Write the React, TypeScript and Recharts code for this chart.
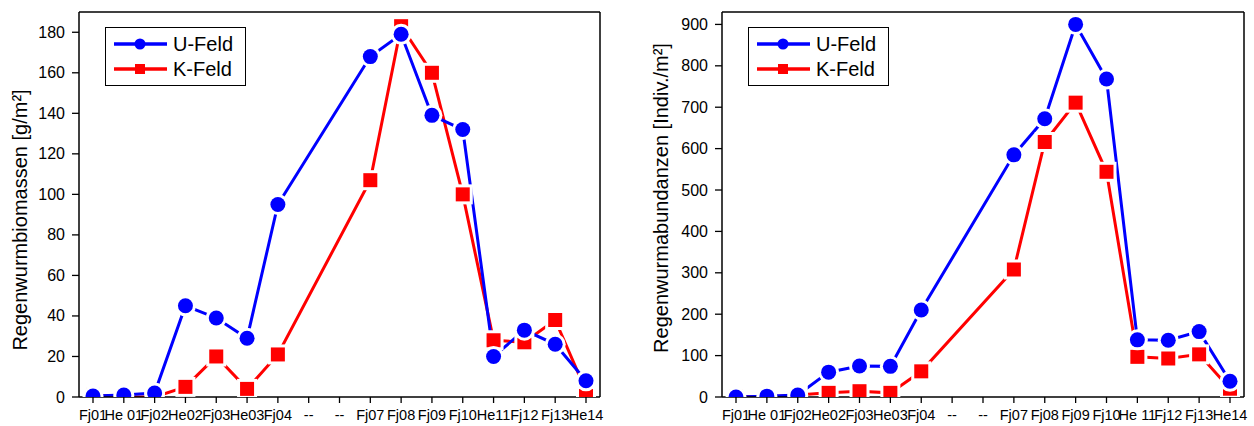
import React from "react";
import { LineChart, Line, XAxis, YAxis, Legend } from "recharts";

const labelsBio = ["Fj01", "He 01", "Fj02", "He02", "Fj03", "He03", "Fj04", "--", "--", "Fj07", "Fj08", "Fj09", "Fj10", "He11", "Fj12", "Fj13", "He14"];
const labelsAbu = ["Fj01", "He 01", "Fj02", "He02", "Fj03", "He03", "Fj04", "--", "--", "Fj07", "Fj08", "Fj09", "Fj10", "He 11", "Fj12", "Fj13", "He14"];

const bioU = [0.5, 1, 2, 45, 39, 29, 95, null, null, 168, 179, 139, 132, 20, 33, 26, 8];
const bioK = [1, 0, 0, 5, 20, 4, 21, null, null, 107, 183, 160, 100, 28, 27, 38, 3];

const abuU = [0, 2, 5, 60, 75, 74, 210, null, null, 585, 672, 900, 768, 138, 137, 158, 38];
const abuK = [2, 0, 5, 10, 14, 10, 62, null, null, 308, 616, 711, 544, 97, 93, 103, 20];

const bioTicks = [0, 10, 20, 30, 40, 50, 60, 70, 80, 90, 100, 110, 120, 130, 140, 150, 160, 170, 180];
const abuTicks = [0, 50, 100, 150, 200, 250, 300, 350, 400, 450, 500, 550, 600, 650, 700, 750, 800, 850, 900];

const BLUE = "#0000ff";
const RED = "#ff0000";
const TICK_FONT = "'Liberation Sans Narrow', 'Arial Narrow', 'Liberation Sans', Arial, sans-serif";
const FONT = "'Liberation Sans', Arial, sans-serif";

const bioData = labelsBio.map((label, i) => ({ label, u: bioU[i], k: bioK[i] }));
const abuData = labelsAbu.map((label, i) => ({ label, u: abuU[i], k: abuK[i] }));

const yTick = (step: number) => (props: any) => {
  const { x, y, payload } = props;
  const major = payload.value % step === 0;
  const len = major ? 7 : 4;
  return (
    <g>
      <line x1={x - len} x2={x} y1={y} y2={y} stroke="#000" strokeWidth={1.3} />
      {major && (
        <text x={x - 14} y={y} textAnchor="end" dominantBaseline="central" fontFamily={TICK_FONT} fontSize={16} fill="#000">
          {payload.value}
        </text>
      )}
    </g>
  );
};

const circleDot = (color: string) => (p: any) => {
  if (p.cx == null || p.cy == null || p.value == null) return <g key={p.index} />;
  return (
    <g key={p.index}>
      <circle cx={p.cx} cy={p.cy} r={10.5} fill="#fff" />
      <circle cx={p.cx} cy={p.cy} r={7.5} fill={color} />
    </g>
  );
};

const squareDot = (color: string) => (p: any) => {
  if (p.cx == null || p.cy == null || p.value == null) return <g key={p.index} />;
  return (
    <g key={p.index}>
      <rect x={p.cx - 10} y={p.cy - 10} width={20} height={20} fill="#fff" />
      <rect x={p.cx - 7} y={p.cy - 7} width={14} height={14} fill={color} />
    </g>
  );
};

const legendBox = () => (
  <svg width={142} height={60} style={{ display: "block" }}>
    <rect x={0.5} y={0.5} width={140} height={58} fill="#fff" stroke="#000" strokeWidth={1} />
    <line x1={9} x2={62} y1={17} y2={17} stroke={BLUE} strokeWidth={3.5} />
    <circle cx={35} cy={17} r={5.5} fill={BLUE} />
    <text x={68} y={17} dominantBaseline="central" fontFamily={FONT} fontSize={20} fill="#000">U-Feld</text>
    <line x1={9} x2={62} y1={42} y2={42} stroke={RED} strokeWidth={3.5} />
    <rect x={30} y={37} width={10} height={10} fill={RED} />
    <text x={68} y={42} dominantBaseline="central" fontFamily={FONT} fontSize={20} fill="#000">K-Feld</text>
  </svg>
);

function Panel(props: {
  data: any[];
  width: number;
  yWidth: number;
  rightMargin: number;
  domain: [number, number];
  ticks: number[];
  step: number;
  title: string;
  titleX: number;
  titleY: number;
  legendLeft: number;
}) {
  const { data, width, yWidth, rightMargin, domain, ticks, step, title, titleX, titleY, legendLeft } = props;
  const pad = { left: 14, right: 14 };
  return (
    <LineChart width={width} height={426} data={data} margin={{ top: 12, right: rightMargin, bottom: 0, left: 0 }}>
      <XAxis
        dataKey="label"
        interval={0}
        height={29}
        padding={pad}
        tickSize={6}
        tickMargin={7}
        tick={{ fill: "#000", fontSize: 14.5, fontFamily: TICK_FONT }}
        stroke="#000"
        axisLine={{ stroke: "#000", strokeWidth: 1.5 }}
        tickLine={{ stroke: "#000", strokeWidth: 1.3 }}
      />
      <XAxis
        xAxisId="top"
        dataKey="label"
        orientation="top"
        mirror
        interval={0}
        padding={pad}
        tick={false}
        tickSize={4}
        axisLine={{ stroke: "#000", strokeWidth: 1.5 }}
        tickLine={{ stroke: "#000", strokeWidth: 1.3 }}
      />
      <YAxis
        domain={domain}
        ticks={ticks}
        width={yWidth}
        tickSize={0}
        tickMargin={0}
        tickLine={false}
        tick={yTick(step * 2)}
        axisLine={{ stroke: "#000", strokeWidth: 1.5 }}
        allowDataOverflow
        label={() => (
          <text
            x={titleX}
            y={titleY}
            transform={`rotate(-90 ${titleX} ${titleY})`}
            textAnchor="middle"
            dominantBaseline="central"
            fontFamily={FONT}
            fontSize={20}
            fill="#000"
          >
            {title}
          </text>
        )}
      />
      <YAxis
        yAxisId="right"
        orientation="right"
        mirror
        domain={domain}
        ticks={ticks}
        tick={false}
        tickSize={4}
        allowDataOverflow
        axisLine={{ stroke: "#000", strokeWidth: 1.5 }}
        tickLine={{ stroke: "#000", strokeWidth: 1.3 }}
      />
      <Legend
        layout="vertical"
        align="center"
        verticalAlign="middle"
        wrapperStyle={{ left: legendLeft, top: 27, width: 142, height: 60 }}
        content={legendBox}
      />
      <Line
        type="linear"
        dataKey="k"
        name="K-Feld"
        stroke={RED}
        strokeWidth={3}
        connectNulls
        dot={squareDot(RED)}
        activeDot={false}
        isAnimationActive={false}
      />
      <Line
        type="linear"
        dataKey="u"
        name="U-Feld"
        stroke={BLUE}
        strokeWidth={3}
        connectNulls
        dot={circleDot(BLUE)}
        activeDot={false}
        isAnimationActive={false}
      />
    </LineChart>
  );
}

export default function App() {
  return (
    <div style={{ position: "absolute", left: 0, top: 0, width: 1254, height: 426, background: "#fff" }}>
      <div style={{ position: "absolute", left: 0, top: 0 }}>
        <Panel
          data={bioData}
          width={620}
          yWidth={79}
          rightMargin={20}
          domain={[0, 190]}
          ticks={bioTicks}
          step={10}
          title="Regenwurmbiomassen [g/m²]"
          titleX={20}
          titleY={220}
          legendLeft={105}
        />
      </div>
      <div style={{ position: "absolute", left: 642, top: 0 }}>
        <Panel
          data={abuData}
          width={612}
          yWidth={80}
          rightMargin={10}
          domain={[0, 930]}
          ticks={abuTicks}
          step={50}
          title="Regenwurmabundanzen [Indiv./m²]"
          titleX={19}
          titleY={198}
          legendLeft={106}
        />
      </div>
    </div>
  );
}
